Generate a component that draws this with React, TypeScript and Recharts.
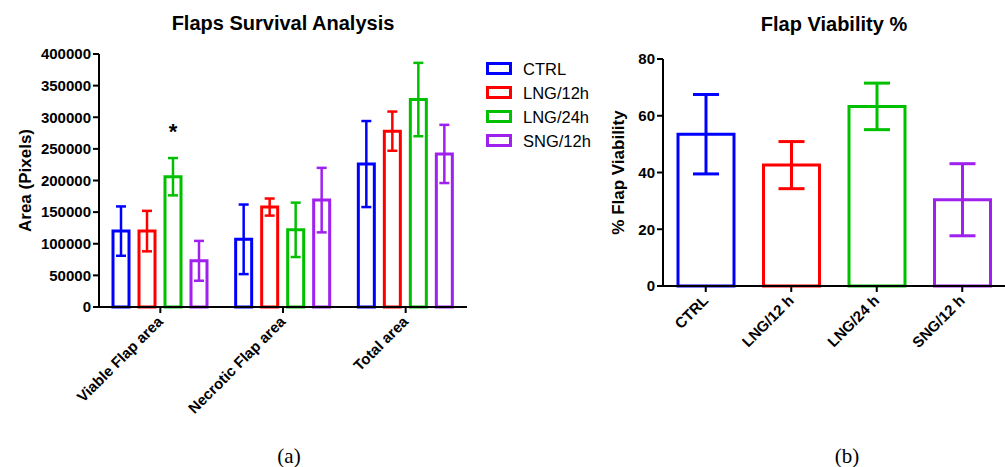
import React from 'react'
import { BarChart, Bar, XAxis, YAxis, ErrorBar, LabelList, Cell } from 'recharts'

const FONT = '"Liberation Sans", Arial, sans-serif'

// panel (a): area per group, mean and SD
const areaCategories = ['Viable Flap area', 'Necrotic Flap area', 'Total area']
const seriesNames = ['CTRL', 'LNG/12h', 'LNG/24h', 'SNG/12h']
const seriesColors = ['#0000ff', '#ff0000', '#00c000', '#a020f0']
const ctrlArea = [120000, 107000, 226000]
const ctrlAreaErr = [39000, 55000, 68000]
const lng12Area = [120000, 158000, 278000]
const lng12AreaErr = [32000, 13500, 31000]
const lng24Area = [206000, 122000, 328000]
const lng24AreaErr = [29500, 43000, 58000]
const sng12Area = [73000, 169000, 242000]
const sng12AreaErr = [31500, 51000, 46000]
const lng24Marks = ['*', '', '']
const areaTicks = [0, 50000, 100000, 150000, 200000, 250000, 300000, 350000, 400000]

// panel (b): viability %
const viabilityGroups = ['CTRL', 'LNG/12 h', 'LNG/24 h', 'SNG/12 h']
const viability = [53.5, 42.6, 63.3, 30.4]
const viabilityErr = [14, 8.3, 8.2, 12.7]
const viabilityTicks = [0, 20, 40, 60, 80]

const areaRows = areaCategories.map((category, i) => ({
  category,
  ctrl: ctrlArea[i],
  ctrlErr: ctrlAreaErr[i],
  lng12: lng12Area[i],
  lng12Err: lng12AreaErr[i],
  lng24: lng24Area[i],
  lng24Err: lng24AreaErr[i],
  lng24Mark: lng24Marks[i],
  sng12: sng12Area[i],
  sng12Err: sng12AreaErr[i],
}))

// one error key per group so each error bar can get its own colour
const viabilityRows = viabilityGroups.map((group, i) => {
  const row: Record<string, string | number | undefined> = { group, value: viability[i] }
  viabilityGroups.forEach((_, j) => {
    row[`err${j}`] = i === j ? viabilityErr[i] : undefined
  })
  return row
})

const areaKeys = ['ctrl', 'lng12', 'lng24', 'sng12']

const tickStyle = { fill: '#000', fontSize: 15, fontWeight: 700, fontFamily: FONT }
const xTickStyle = { ...tickStyle, dx: -4 }
const axisLine = { stroke: '#000', strokeWidth: 2 }

function LegendBox() {
  return (
    <div style={{ fontFamily: FONT, fontSize: 16.5, color: '#000' }}>
      {seriesNames.map((name, i) => (
        <div key={name} style={{ display: 'flex', alignItems: 'center', height: 24 }}>
          <svg width={28} height={16} style={{ marginRight: 9 }}>
            <rect x={1.5} y={2.5} width={23} height={10} fill="none" stroke={seriesColors[i]} strokeWidth={3} />
          </svg>
          <span>{name}</span>
        </div>
      ))}
    </div>
  )
}

export default function App() {
  return (
    <div style={{ position: 'absolute', left: 0, top: 0, width: 1005, height: 467, background: '#fff', overflow: 'hidden' }}>
      <div style={{ position: 'absolute', left: 283, top: 12, transform: 'translateX(-50%)', whiteSpace: 'nowrap', fontFamily: FONT, fontWeight: 700, fontSize: 20 }}>
        Flaps Survival Analysis
      </div>
      <div style={{ position: 'absolute', left: 834, top: 13, transform: 'translateX(-50%)', whiteSpace: 'nowrap', fontFamily: FONT, fontWeight: 700, fontSize: 20 }}>
        Flap Viability %
      </div>

      <div style={{ position: 'absolute', left: 0, top: 0 }}>
        <BarChart width={580} height={467} data={areaRows} margin={{ top: 54, right: 113, bottom: 0, left: 0 }} barSize={16} barGap={10}>
          <XAxis
            dataKey="category"
            interval={0}
            height={160}
            axisLine={axisLine}
            tickLine={axisLine}
            tickSize={6}
            angle={-45}
            textAnchor="end"
            tick={xTickStyle}
          />
          <YAxis
            width={99}
            domain={[0, 400000]}
            ticks={areaTicks}
            interval={0}
            axisLine={axisLine}
            tickLine={axisLine}
            tickSize={6}
            tick={tickStyle}
            label={{
              value: 'Area (Pixels)',
              angle: -90,
              position: 'insideLeft',
              offset: 25,
              style: { textAnchor: 'middle', fontSize: 17, fontWeight: 700, fontFamily: FONT, fill: '#000' },
            }}
          />
          {areaKeys.map((key, i) => (
            <Bar key={key} dataKey={key} name={seriesNames[i]} fill="#fff" stroke={seriesColors[i]} strokeWidth={3} isAnimationActive={false}>
              <ErrorBar dataKey={`${key}Err`} width={5} stroke={seriesColors[i]} strokeWidth={2.5} />
              {key === 'lng24' && (
                <LabelList dataKey="lng24Mark" position="top" offset={38} style={{ fontSize: 22, fontWeight: 700, fontFamily: FONT, fill: '#000' }} />
              )}
            </Bar>
          ))}
        </BarChart>
      </div>

      <div style={{ position: 'absolute', left: 486, top: 57 }}>
        <LegendBox />
      </div>

      <div style={{ position: 'absolute', left: 580, top: 0 }}>
        <BarChart width={425} height={467} data={viabilityRows} margin={{ top: 59, right: 0, bottom: 0, left: 0 }} barSize={56}>
          <XAxis
            dataKey="group"
            interval={0}
            height={181}
            axisLine={axisLine}
            tickLine={axisLine}
            tickSize={6}
            angle={-45}
            textAnchor="end"
            tick={xTickStyle}
          />
          <YAxis
            width={83}
            domain={[0, 80]}
            ticks={viabilityTicks}
            interval={0}
            axisLine={axisLine}
            tickLine={axisLine}
            tickSize={6}
            tick={tickStyle}
            label={{
              value: '% Flap Viability',
              angle: -90,
              position: 'insideLeft',
              offset: 38,
              style: { textAnchor: 'middle', fontSize: 17, fontWeight: 700, fontFamily: FONT, fill: '#000' },
            }}
          />
          <Bar dataKey="value" fill="#fff" strokeWidth={3} isAnimationActive={false}>
            {viabilityGroups.map((g, i) => (
              <Cell key={g} stroke={seriesColors[i]} />
            ))}
            {viabilityGroups.map((g, i) => (
              <ErrorBar key={g} dataKey={`err${i}`} width={13} stroke={seriesColors[i]} strokeWidth={3} />
            ))}
          </Bar>
        </BarChart>
      </div>

      <div style={{ position: 'absolute', left: 289, top: 444, transform: 'translateX(-50%)', fontFamily: '"Liberation Serif", serif', fontSize: 21 }}>(a)</div>
      <div style={{ position: 'absolute', left: 847, top: 444, transform: 'translateX(-50%)', fontFamily: '"Liberation Serif", serif', fontSize: 21 }}>(b)</div>
    </div>
  )
}
